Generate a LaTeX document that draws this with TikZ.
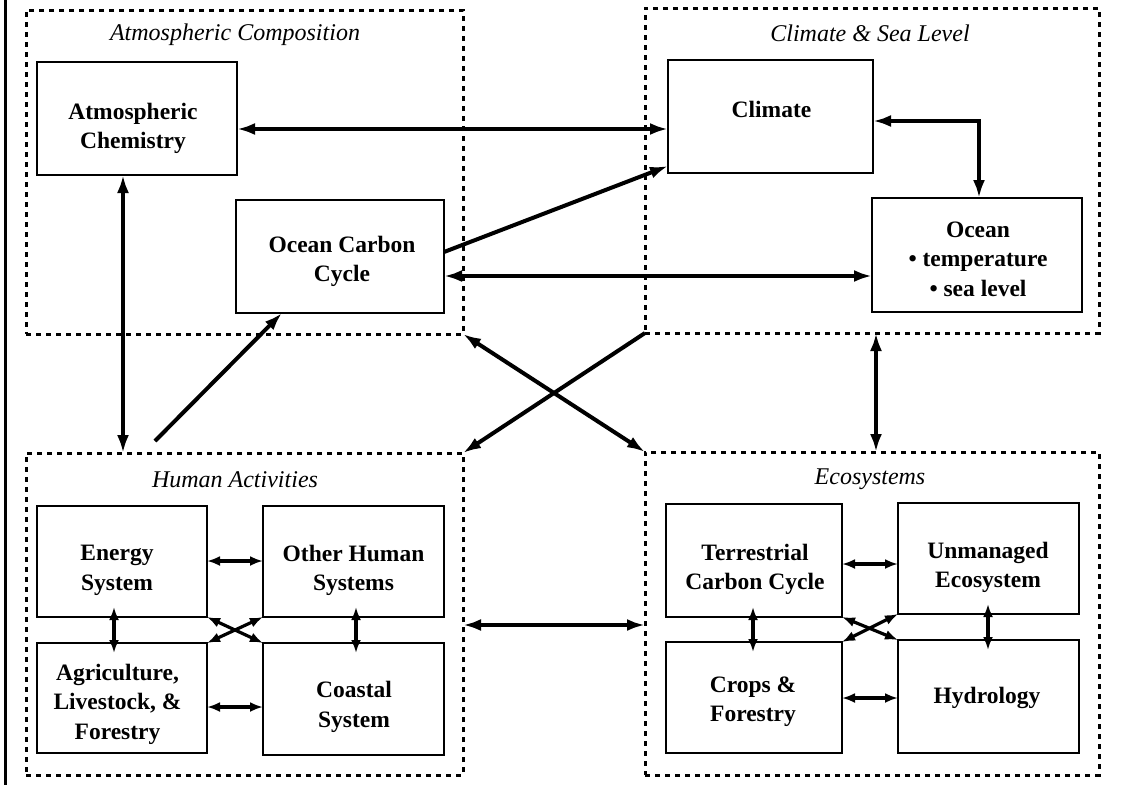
\documentclass[tikz,border=0pt]{standalone}
\usepackage{fontspec}
\setmainfont{Liberation Serif}
\usetikzlibrary{arrows.meta}
\begin{document}
\begin{tikzpicture}[x=1pt,y=-1pt,
  grp/.style={draw, line width=3pt, dash pattern=on 5pt off 5pt, inner sep=0pt, outer sep=0pt},
  bx/.style={draw, line width=2.8pt, inner sep=0pt, outer sep=0pt},
  txt/.style={align=center, inner sep=0pt, font=\fontsize{23.5}{29.5}\selectfont\bfseries},
  ttl/.style={font=\fontsize{24}{28}\selectfont\itshape, inner sep=0pt},
  big/.style={line width=4pt, {Latex[length=18pt,width=12pt]}-{Latex[length=18pt,width=12pt]}},
  bigone/.style={line width=4pt, -{Latex[length=18pt,width=12pt]}},
  sm/.style={line width=3.2pt, {Latex[length=13pt,width=10pt]}-{Latex[length=13pt,width=10pt]}},
  ext/.style={shorten <=-10pt, shorten >=-10pt}
]
\fill[white] (0,0) rectangle (1138,785);
\useasboundingbox (0,0) rectangle (1138,785);
\draw[line width=3pt] (5,0) -- (5,785);

% groups
\node[grp, minimum width=437pt, minimum height=324pt] (g1) at (244.5,172) {};
\node[grp, minimum width=454pt, minimum height=325pt] (g2) at (872,170.5) {};
\node[grp, minimum width=437pt, minimum height=322pt] (g3) at (244.5,614) {};
\node[grp, minimum width=454pt, minimum height=323pt] (g4) at (872,613.5) {};

\node[ttl] (t1) at (235,35) {Atmospheric Composition};
\node[ttl] (t2) at (870,33) {Climate \& Sea Level};
\node[ttl] (t3) at (235,480) {Human Activities};
\node[ttl] (t4) at (870,479) {Ecosystems};

% boxes
\node[bx, minimum width=200pt, minimum height=113pt] (ac) at (137,118.5) {};
\node[bx, minimum width=208pt, minimum height=113pt] (occ) at (340,256.5) {};
\node[bx, minimum width=205pt, minimum height=113pt] (clim) at (770.5,116.5) {};
\node[bx, minimum width=210pt, minimum height=114pt] (ocean) at (977,255) {};
\node[bx, minimum width=170pt, minimum height=111pt] (energy) at (122,561.5) {};
\node[bx, minimum width=181pt, minimum height=111pt] (other) at (353.5,561.5) {};
\node[bx, minimum width=170pt, minimum height=110pt] (agri) at (122,698) {};
\node[bx, minimum width=181pt, minimum height=112pt] (coastal) at (353.5,699) {};
\node[bx, minimum width=176pt, minimum height=113pt] (terr) at (754,560.5) {};
\node[bx, minimum width=181pt, minimum height=111pt] (unman) at (988.5,558.5) {};
\node[bx, minimum width=176pt, minimum height=111pt] (crops) at (754,697.5) {};
\node[bx, minimum width=181pt, minimum height=113pt] (hydro) at (988.5,696.5) {};

% box texts
\node[txt] (ac-t) at (133,128.5) {Atmospheric\\Chemistry};
\node[txt] (occ-t) at (342,261.5) {Ocean Carbon\\Cycle};
\node[txt] (clim-t) at (771.5,109) {Climate};
\node[txt] (ocean-t) at (978,259) {Ocean\\• temperature\\• sea level};
\node[txt] (energy-t) at (117,570.5) {Energy\\System};
\node[txt] (other-t) at (353.5,570.5) {Other Human\\Systems};
\node[txt] (agri-t) at (117.5,704) {Agriculture,\\Livestock, \&\\Forestry};
\node[txt] (coastal-t) at (354,707) {Coastal\\System};
\node[txt] (terr-t) at (755,569.5) {Terrestrial\\Carbon Cycle};
\node[txt] (unman-t) at (988,567.5) {Unmanaged\\Ecosystem};
\node[txt] (crops-t) at (753,701.5) {Crops \&\\Forestry};
\node[txt] (hydro-t) at (987,697.5) {Hydrology};

\coordinate (hs) at (155,441);

% inter-group connectors
\draw[big] (ac.east |- 0,129) -- (clim.west |- 0,129);
\draw[bigone] (occ.east |- 0,252) -- (clim.west |- 0,166);
\draw[big] (occ.east |- 0,276) -- (ocean.west |- 0,276);
\draw[big] (clim.east |- 0,121) -| (ocean.north -| 979,0);
\draw[big] (ac.south -| 123,0) -- (g3.north -| 123,0);
\draw[bigone] (hs) -- (occ.south -| 282,0);
\draw[big] (g1.south east) -- (g4.north west);
\draw[bigone] (g2.south west) -- (g3.north east);
\draw[big] (g2.south -| 876,0) -- (g4.north -| 876,0);
\draw[big] (g3.east |- 0,625) -- (g4.west |- 0,625);

% human activities
\draw[sm] (energy.east |- 0,561) -- (other.west |- 0,561);
\draw[sm] (agri.east |- 0,707) -- (coastal.west |- 0,707);
\draw[sm, ext] (energy.south -| 114,0) -- (agri.north -| 114,0);
\draw[sm, ext] (other.south -| 356,0) -- (coastal.north -| 356,0);
\draw[sm] (energy.south east) -- (coastal.north west);
\draw[sm] (other.south west) -- (agri.north east);

% ecosystems
\draw[sm] (terr.east |- 0,564) -- (unman.west |- 0,564);
\draw[sm] (crops.east |- 0,698) -- (hydro.west |- 0,698);
\draw[sm, ext] (terr.south -| 753,0) -- (crops.north -| 753,0);
\draw[sm, ext] (unman.south -| 988,0) -- (hydro.north -| 988,0);
\draw[sm] (terr.south east) -- (hydro.north west);
\draw[sm] (unman.south west) -- (crops.north east);
\end{tikzpicture}
\end{document}
